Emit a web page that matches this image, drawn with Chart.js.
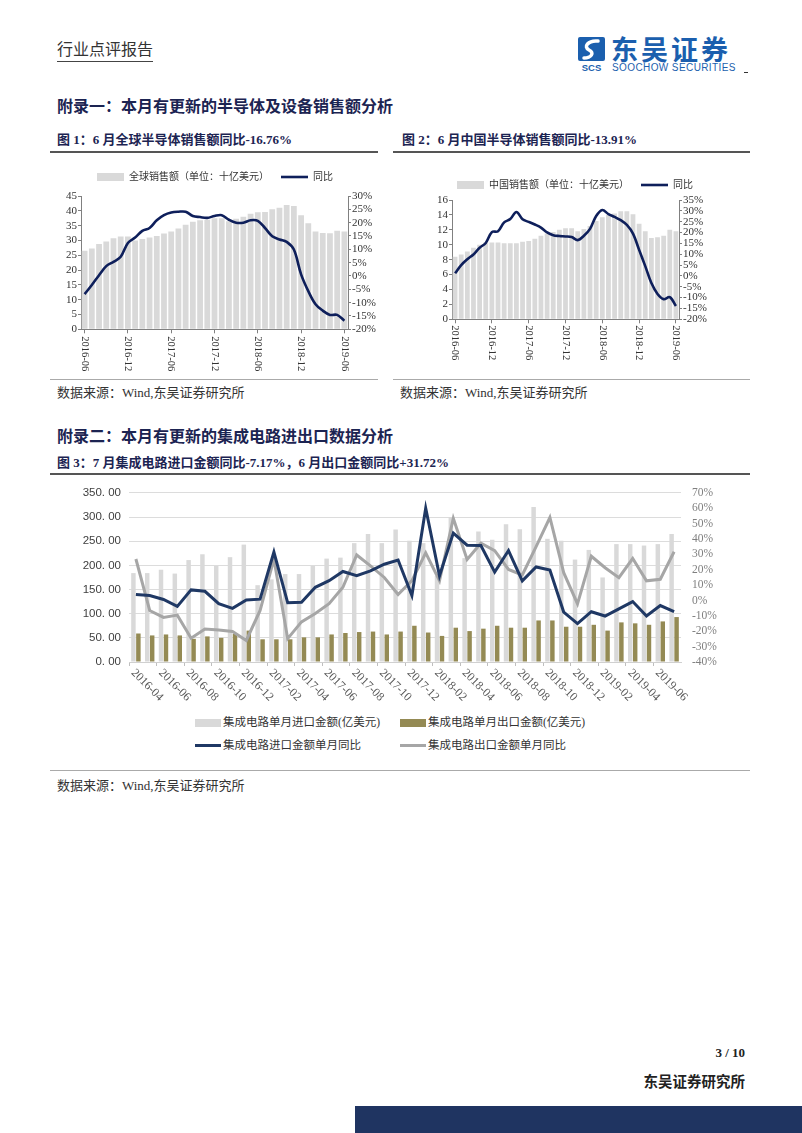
<!DOCTYPE html>
<html>
<head>
<meta charset="utf-8">
<script src="https://cdn.jsdelivr.net/npm/chart.js@4.4.0/dist/chart.umd.min.js"></script>
<style>
body { margin: 0; background: #fff; }
#page { position: relative; width: 802px; height: 1133px; overflow: hidden; background: #fff;
        font-family: "Liberation Serif", "Noto Sans CJK SC", serif; color: #222; }
.t { position: absolute; white-space: nowrap; line-height: 1; }
.rule { position: absolute; }
canvas { position: absolute; }
.sw { position: absolute; }
</style>
</head>
<body>
<div id="page">
  <div class="t" style="left:57px;top:42px;font-size:16px;color:#333;border-bottom:1px solid #444;padding-bottom:3px;">行业点评报告</div>

  <svg style="position:absolute;left:578px;top:37px" width="28" height="36" viewBox="0 0 28 36">
    <rect x="0" y="0" width="27" height="24" rx="2" fill="#1b5fae"/>
    <path d="M20 4 C10 3 5 10 11 13 C17 16 13 21 6 21" stroke="#fff" stroke-width="3.5" fill="none" stroke-linecap="round"/>
    <text x="13.5" y="34" font-family="Liberation Sans" font-weight="bold" font-size="9.5" fill="#1b5fae" text-anchor="middle">SCS</text>
  </svg>
  <div class="t" style="left:611px;top:35px;font-size:27px;font-weight:bold;color:#1b5fae;font-family:'Noto Sans CJK SC';letter-spacing:3px;">东吴证券</div>
  <div class="t" style="left:612px;top:63px;font-size:10px;color:#1b5fae;font-family:'Liberation Sans';letter-spacing:0.4px;">SOOCHOW SECURITIES</div>
  <div class="rule" style="left:744px;top:72px;width:4px;height:1px;background:#333;"></div>

  <div class="t" style="left:57px;top:99px;font-size:16px;font-weight:bold;color:#1c2452;">附录一：本月有更新的半导体及设备销售额分析</div>
  <div class="t" style="left:57px;top:133px;font-size:13px;font-weight:bold;color:#1c2452;">图 1：6 月全球半导体销售额同比-16.76%</div>
  <div class="t" style="left:402px;top:133px;font-size:13px;font-weight:bold;color:#1c2452;">图 2：6 月中国半导体销售额同比-13.91%</div>
  <div class="rule" style="left:50px;top:151px;width:328px;height:2px;background:#555;"></div>
  <div class="rule" style="left:393px;top:151px;width:357px;height:2px;background:#555;"></div>

  <canvas id="c1" width="330" height="215" style="left:50px;top:160px;"></canvas>
  <canvas id="c2" width="350" height="215" style="left:400px;top:160px;"></canvas>

  <div class="rule" style="left:50px;top:379px;width:328px;height:1px;background:#aaa;"></div>
  <div class="rule" style="left:393px;top:379px;width:357px;height:1px;background:#aaa;"></div>
  <div class="t" style="left:57px;top:386px;font-size:13px;color:#333;">数据来源：Wind,东吴证券研究所</div>
  <div class="t" style="left:400px;top:386px;font-size:13px;color:#333;">数据来源：Wind,东吴证券研究所</div>

  <div class="t" style="left:57px;top:429px;font-size:16px;font-weight:bold;color:#1c2452;">附录二：本月有更新的集成电路进出口数据分析</div>
  <div class="t" style="left:57px;top:456px;font-size:13px;font-weight:bold;color:#1c2452;">图 3：7 月集成电路进口金额同比-7.17%，6 月出口金额同比+31.72%</div>
  <div class="rule" style="left:50px;top:473px;width:700px;height:2px;background:#555;"></div>

  <canvas id="c3" width="700" height="224" style="left:50px;top:478px;"></canvas>

  <div class="sw" style="left:195px;top:719px;width:26px;height:8px;background:#d9d9d9;"></div>
  <div class="t" style="left:223px;top:717px;font-size:11.5px;color:#333;">集成电路单月进口金额(亿美元)</div>
  <div class="sw" style="left:400px;top:719px;width:26px;height:8px;background:#948a54;"></div>
  <div class="t" style="left:428px;top:717px;font-size:11.5px;color:#333;">集成电路单月出口金额(亿美元)</div>
  <div class="sw" style="left:195px;top:744px;width:26px;height:3px;background:#1f3864;"></div>
  <div class="t" style="left:223px;top:740px;font-size:11.5px;color:#333;">集成电路进口金额单月同比</div>
  <div class="sw" style="left:400px;top:744px;width:26px;height:3px;background:#a6a6a6;"></div>
  <div class="t" style="left:428px;top:740px;font-size:11.5px;color:#333;">集成电路出口金额单月同比</div>

  <div class="rule" style="left:50px;top:770px;width:700px;height:1px;background:#aaa;"></div>
  <div class="t" style="left:57px;top:779px;font-size:13px;color:#333;">数据来源：Wind,东吴证券研究所</div>

  <div class="t" style="right:57px;top:1046px;font-size:13px;font-weight:bold;color:#222;">3 / 10</div>
  <div class="t" style="right:57px;top:1075px;font-size:14.5px;font-weight:bold;color:#222;">东吴证券研究所</div>
  <div class="rule" style="left:355px;top:1106px;width:447px;height:27px;background:#1f3461;"></div>
</div>

<script>
// chart 1 + 2: monthly, 2016-06 .. 2019-06
const months = ['2016-06','2016-07','2016-08','2016-09','2016-10','2016-11','2016-12',
  '2017-01','2017-02','2017-03','2017-04','2017-05','2017-06','2017-07','2017-08','2017-09','2017-10','2017-11','2017-12',
  '2018-01','2018-02','2018-03','2018-04','2018-05','2018-06','2018-07','2018-08','2018-09','2018-10','2018-11','2018-12',
  '2019-01','2019-02','2019-03','2019-04','2019-05','2019-06'];

const globalSales = [26.5, 27.3, 28.8, 29.6, 30.7, 31.3, 31.3, 30.0, 30.5, 31.0, 31.5, 32.3, 33.0, 34.0, 35.3, 36.3, 36.8, 37.0, 37.5,
  37.5, 36.5, 37.3, 38.0, 39.0, 39.5, 39.6, 40.5, 41.0, 42.0, 41.6, 38.5, 35.8, 33.0, 32.5, 32.4, 33.3, 33.0];
const globalYoY = [-6.8, -3.4, 0.3, 3.7, 5.3, 7.2, 12.4, 14.4, 16.9, 18.0, 20.9, 22.8, 23.8, 24.1, 24.1, 22.5, 22.1, 21.8, 22.5,
  22.8, 21.1, 20.0, 20.0, 20.9, 20.7, 18.0, 14.9, 13.7, 12.8, 9.9, 0.6, -5.7, -10.6, -13.0, -14.6, -14.6, -16.76];

const chinaSales = [8.4, 8.7, 9.1, 9.6, 10.0, 10.3, 10.3, 10.3, 10.2, 10.2, 10.2, 10.4, 10.5, 10.8, 11.2, 11.5, 11.7, 12.0, 12.2,
  12.2, 11.8, 12.1, 12.5, 13.2, 13.7, 14.0, 14.2, 14.5, 14.5, 14.1, 12.8, 11.8, 10.9, 11.0, 11.2, 12.0, 11.8];
const chinaYoY = [1.2, 5.0, 7.7, 9.9, 13.0, 15.2, 20.2, 20.6, 24.7, 26.2, 29.5, 26.1, 24.9, 23.7, 22.3, 20.1, 18.8, 18.4, 18.2,
  17.9, 16.5, 18.5, 21.7, 27.6, 30.4, 28.5, 27.2, 25.7, 23.5, 19.5, 12.0, 4.5, -3.3, -8.3, -10.7, -9.8, -13.91];

// chart 3: monthly, 2016-04 .. 2019-07
const months3 = ['2016-04','2016-05','2016-06','2016-07','2016-08','2016-09','2016-10','2016-11','2016-12',
  '2017-01','2017-02','2017-03','2017-04','2017-05','2017-06','2017-07','2017-08','2017-09','2017-10','2017-11','2017-12',
  '2018-01','2018-02','2018-03','2018-04','2018-05','2018-06','2018-07','2018-08','2018-09','2018-10','2018-11','2018-12',
  '2019-01','2019-02','2019-03','2019-04','2019-05','2019-06','2019-07'];
const icImports = [184, 184, 191, 183, 211, 223, 199, 217, 243, 159, 171, 182, 182, 199, 214, 216, 246, 265, 246, 274,
  251, 246, 178, 300, 215, 270, 253, 285, 275, 321, 255, 251, 212, 232, 175, 244, 244, 241, 244, 265];
const icExports = [59, 55, 57, 55, 48, 53, 50, 58, 65, 47, 47, 47, 51, 51, 57, 60, 62, 63, 57, 63,
  75, 61, 54, 71, 64, 69, 75, 71, 71, 86, 86, 73, 73, 77, 65, 82, 80, 77, 84, 93];
const importYoY = [3.9, 3.2, 0.7, -3.8, 6.9, 6.0, -2.1, -5.1, 0.4, 0.9, 31.5, -1.5, -1.1, 8.6, 12.9, 18.9, 16.1, 19.3, 23.6, 26.3,
  3.2, 60.0, 16.1, 43.9, 36.0, 35.8, 18.5, 32.5, 12.8, 21.8, 19.8, -7.5, -15.0, -7.3, -10.1, -5.4, -0.7, -10.1, -3.3, -7.17];
const exportYoY = [27, -6.5, -11, -9.5, -24.5, -18.5, -19.2, -20.2, -26, -6.5, 27, -24.8, -13.9, -8.5, -2.1, 8.6, 29.6, 22.5, 15.0, 3.9,
  12.9, 31.0, 12.9, 53.5, 26.7, 37.3, 32.4, 20.2, 16.6, 35.0, 54.0, 18.1, -2.2, 28.8, 21.3, 14.9, 27.3, 12.8, 13.8, 31.72];

const SERIF = '"Liberation Serif", "Noto Sans CJK SC", serif';
Chart.defaults.font.family = SERIF;
Chart.defaults.color = '#333';

// x labels that read downward (clockwise), like the original charts
const rotatedLabels = {
  id: 'rotatedLabels',
  afterDraw(chart, args, opts) {
    const xs = chart.scales.x;
    const ctx = chart.ctx;
    ctx.save();
    ctx.font = opts.font;
    ctx.fillStyle = opts.color;
    ctx.textAlign = 'left';
    ctx.textBaseline = 'middle';
    chart.data.labels.forEach((lab, i) => {
      if (i % opts.every !== 0) return;
      ctx.save();
      ctx.translate(xs.getPixelForValue(i) + (opts.dx || 0), xs.top + opts.gap);
      ctx.rotate(opts.angle * Math.PI / 180);
      ctx.fillText(lab, 0, 0);
      ctx.restore();
    });
    ctx.restore();
  }
};

function salesChart(id, barLabel, bars, yoy, opt) {
  const axisCol = '#808080';
  const scales = {
    x: {
      offset: true,
      grid: { offset: false, drawOnChartArea: false, tickLength: 4,
              color: c => c.index % 6 === 0 ? axisCol : 'rgba(0,0,0,0)' },
      border: { color: axisCol },
      ticks: { display: false, autoSkip: false },
      afterFit: s => { s.height = opt.xHeight; }
    },
    y: {
      position: 'left', min: 0, max: opt.yMax,
      ticks: { stepSize: opt.yStep, autoSkip: false, padding: 1, color: '#333', font: { size: 11 } },
      grid: { drawOnChartArea: false, tickLength: 3, color: axisCol },
      border: { color: axisCol },
      afterFit: s => { s.width = opt.leftW; }
    },
    y1: {
      position: 'right', min: -20, max: opt.pMax,
      ticks: { stepSize: 5, autoSkip: false, padding: 1, color: '#333', font: { size: 11 }, callback: v => v + '%' },
      grid: { drawOnChartArea: false, tickLength: 3, color: axisCol },
      border: { color: axisCol },
      afterFit: s => { s.width = opt.rightW; }
    }
  };
  if (opt.topGap) {
    scales.xTop = {
      type: 'category', position: 'top', display: true,
      ticks: { display: false }, grid: { display: false }, border: { display: false },
      afterFit: s => { s.height = opt.topGap; }
    };
  }
  return new Chart(document.getElementById(id), {
    data: {
      labels: months,
      datasets: [
        { type: 'line', label: '同比', data: yoy, yAxisID: 'y1',
          borderColor: '#0e1f5b', backgroundColor: '#0e1f5b', borderWidth: 2.6,
          pointRadius: 0, pointBorderWidth: 2.6, pointStyle: 'line', tension: 0.35 },
        { type: 'bar', label: barLabel, data: bars, yAxisID: 'y',
          backgroundColor: '#d9d9d9', categoryPercentage: opt.catPct, barPercentage: 1, pointStyle: 'rect' }
      ]
    },
    options: {
      responsive: false,
      animation: false,
      devicePixelRatio: 1,
      layout: { padding: { top: opt.padTop, left: 0, right: 0, bottom: 0 } },
      scales: scales,
      plugins: {
        tooltip: { enabled: false },
        legend: {
          position: 'top',
          labels: {
            usePointStyle: true, pointStyleWidth: 27, boxHeight: 8, padding: 12,
            color: '#333', font: { size: 10, family: SERIF },
            sort: (a, b) => b.datasetIndex - a.datasetIndex
          }
        },
        rotatedLabels: { every: 6, angle: 90, gap: opt.labelGap, font: '10.5px ' + SERIF, color: '#333' }
      }
    },
    plugins: [rotatedLabels]
  });
}

salesChart('c1', '全球销售额（单位：十亿美元）', globalSales, globalYoY,
  { yMax: 45, yStep: 5, pMax: 30, leftW: 31, rightW: 32, xHeight: 45.7, padTop: 0, topGap: 4, catPct: 0.8, labelGap: 7 });
salesChart('c2', '中国销售额（单位：十亿美元）', chinaSales, chinaYoY,
  { yMax: 16, yStep: 2, pMax: 35, leftW: 52, rightW: 71, xHeight: 55.7, padTop: 8, topGap: 0, catPct: 0.78, labelGap: 6 });

new Chart(document.getElementById('c3'), {
  data: {
    labels: months3,
    datasets: [
      { type: 'line', label: '集成电路进口金额单月同比', data: importYoY, yAxisID: 'y1',
        borderColor: '#1f3864', borderWidth: 3, pointRadius: 0, tension: 0 },
      { type: 'line', label: '集成电路出口金额单月同比', data: exportYoY, yAxisID: 'y1',
        borderColor: '#a6a6a6', borderWidth: 3, pointRadius: 0, tension: 0 },
      { type: 'bar', label: '集成电路单月进口金额(亿美元)', data: icImports, yAxisID: 'y',
        backgroundColor: '#d9d9d9', categoryPercentage: 0.72, barPercentage: 0.9 },
      { type: 'bar', label: '集成电路单月出口金额(亿美元)', data: icExports, yAxisID: 'y',
        backgroundColor: '#948a54', categoryPercentage: 0.72, barPercentage: 0.9 }
    ]
  },
  options: {
    responsive: false,
    animation: false,
    devicePixelRatio: 1,
    layout: { padding: { top: 13, left: 0, right: 0, bottom: 0 } },
    scales: {
      x: {
        offset: true,
        grid: { offset: true, drawOnChartArea: false, tickLength: 4,
                color: c => c.index % 2 === 0 ? '#bfbfbf' : 'rgba(0,0,0,0)' },
        border: { color: '#d0d0d0' },
        ticks: { display: false, autoSkip: false },
        afterFit: s => { s.height = 40; }
      },
      y: {
        position: 'left', min: 0, max: 350,
        ticks: { stepSize: 50, autoSkip: false, padding: 8, color: '#404040',
                 font: { family: '"Liberation Sans", sans-serif', size: 11.5 },
                 callback: v => v.toFixed(2).replace('.', '. ') },
        grid: { color: '#dcdcdc', drawTicks: false },
        border: { display: false },
        afterFit: s => { s.width = 79; }
      },
      y1: {
        position: 'right', min: -40, max: 70,
        ticks: { stepSize: 10, autoSkip: false, padding: 3, color: '#7f7f7f', font: { size: 11.5 }, callback: v => v + '%' },
        grid: { display: false },
        border: { display: false },
        afterFit: s => { s.width = 69; }
      }
    },
    plugins: {
      legend: { display: false },
      tooltip: { enabled: false },
      rotatedLabels: { every: 2, angle: 45, gap: 9, dx: -3, font: '12px ' + SERIF, color: '#595959' }
    }
  },
  plugins: [rotatedLabels]
});
</script>
</body>
</html>
